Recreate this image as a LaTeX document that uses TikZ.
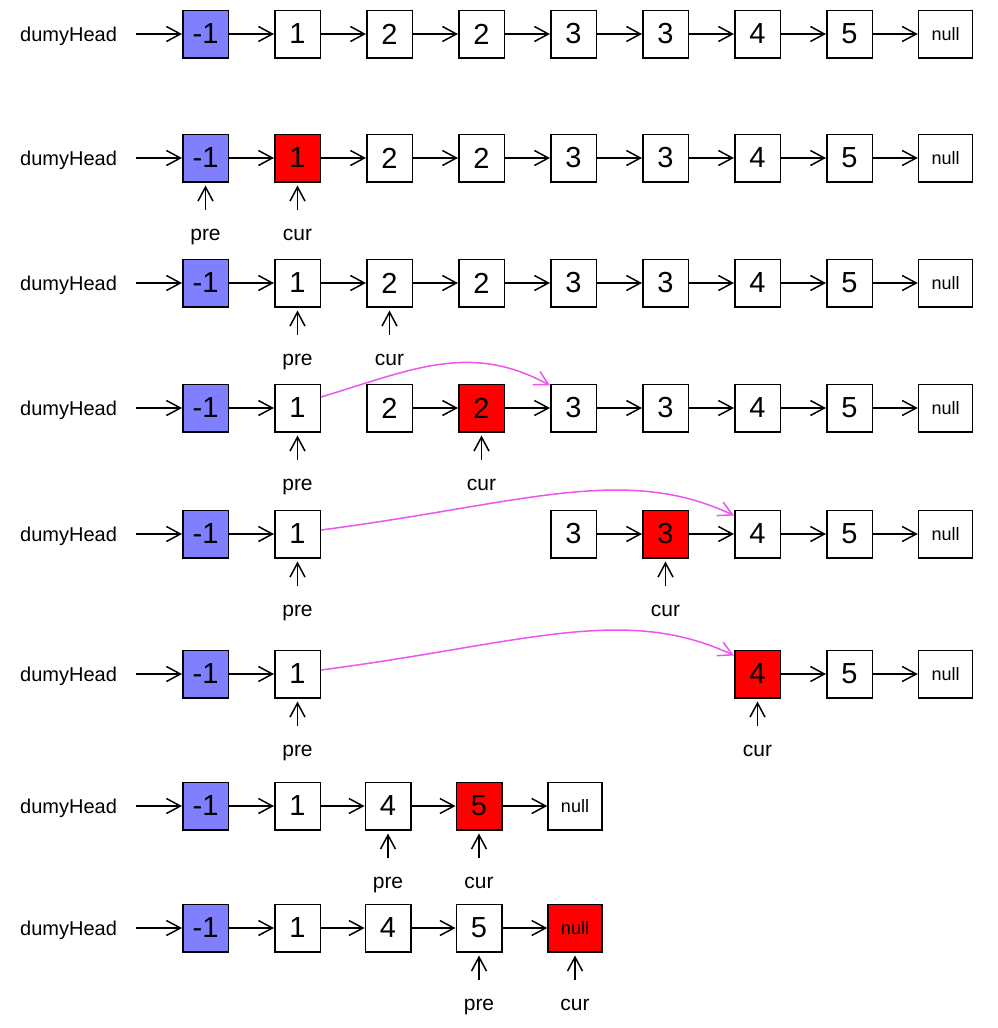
\documentclass[tikz,border=0pt]{standalone}
\usepackage{fontspec}
\setmainfont{Liberation Sans}
\usetikzlibrary{arrows.meta}

\definecolor{headblue}{HTML}{8080FF}
\definecolor{curred}{HTML}{FF0000}
\definecolor{jump}{HTML}{EE55EE}

\tikzset{
  box/.style={draw, line width=1.5pt, minimum width=45.5pt, minimum height=47.5pt,
    inner sep=0pt, font=\fontsize{29}{29}\selectfont},
  nullbox/.style={box, minimum width=54pt, font=\fontsize{18}{18}\selectfont},
  headbox/.style={box, fill=headblue},
  hot/.style={fill=curred},
  link/.style={line width=1.5pt, -{Straight Barb[length=14pt,width=15pt]}},
  jumplink/.style={link, draw=jump},
  lbl/.style={inner sep=0pt, font=\fontsize{21}{21}\selectfont},
  headlbl/.style={inner sep=0pt, anchor=west, yshift=-2pt, font=\fontsize{20}{20}\selectfont},
}

% pointer label under a box: #1 box, #2 label name, #3 text
\newcommand\ptrto[3]{%
  \node[lbl, anchor=base] (#2) at ([yshift=-58pt]#1.south) {#3};
  \draw[link] ([yshift=31pt]#2.base) -- ([yshift=-3pt]#1.south);}

\begin{document}
\begin{tikzpicture}[x=1pt, y=1pt]
\useasboundingbox (0,0) rectangle (998,-1028);

% ---------- row 1: initial list ----------
\node[headlbl] (h1) at (20,-34) {dumyHead};
\node[headbox] (a0) at (205.5,-34) {-1};
\node[box] (a1) at (297.5,-34) {1};
\node[box] (a2) at (389.5,-34) {2};
\node[box] (a3) at (481.5,-34) {2};
\node[box] (a4) at (573.5,-34) {3};
\node[box] (a5) at (665.5,-34) {3};
\node[box] (a6) at (757.5,-34) {4};
\node[box] (a7) at (849.5,-34) {5};
\node[nullbox] (a8) at (945.5,-34) {null};
\draw[link] ([xshift=19pt,yshift=2pt]h1.east) -- (a0.west);
\foreach \i/\j in {0/1,1/2,2/3,3/4,4/5,5/6,6/7,7/8}
  \draw[link] (a\i.east) -- (a\j.west);

% ---------- row 2: pre at dummy, cur at first ----------
\node[headlbl] (h2) at (20,-158) {dumyHead};
\node[headbox] (b0) at (205.5,-158) {-1};
\node[box, hot] (b1) at (297.5,-158) {1};
\node[box] (b2) at (389.5,-158) {2};
\node[box] (b3) at (481.5,-158) {2};
\node[box] (b4) at (573.5,-158) {3};
\node[box] (b5) at (665.5,-158) {3};
\node[box] (b6) at (757.5,-158) {4};
\node[box] (b7) at (849.5,-158) {5};
\node[nullbox] (b8) at (945.5,-158) {null};
\draw[link] ([xshift=19pt,yshift=2pt]h2.east) -- (b0.west);
\foreach \i/\j in {0/1,1/2,2/3,3/4,4/5,5/6,6/7,7/8}
  \draw[link] (b\i.east) -- (b\j.west);
\ptrto{b0}{bp}{pre}
\ptrto{b1}{bc}{cur}

% ---------- row 3 ----------
\node[headlbl] (h3) at (20,-283) {dumyHead};
\node[headbox] (c0) at (205.5,-283) {-1};
\node[box] (c1) at (297.5,-283) {1};
\node[box] (c2) at (389.5,-283) {2};
\node[box] (c3) at (481.5,-283) {2};
\node[box] (c4) at (573.5,-283) {3};
\node[box] (c5) at (665.5,-283) {3};
\node[box] (c6) at (757.5,-283) {4};
\node[box] (c7) at (849.5,-283) {5};
\node[nullbox] (c8) at (945.5,-283) {null};
\draw[link] ([xshift=19pt,yshift=2pt]h3.east) -- (c0.west);
\foreach \i/\j in {0/1,1/2,2/3,3/4,4/5,5/6,6/7,7/8}
  \draw[link] (c\i.east) -- (c\j.west);
\ptrto{c1}{cp}{pre}
\ptrto{c2}{cc}{cur}

% ---------- row 4: skip the run of 2s ----------
\node[headlbl] (h4) at (20,-408) {dumyHead};
\node[headbox] (d0) at (205.5,-408) {-1};
\node[box] (d1) at (297.5,-408) {1};
\node[box] (d2) at (389.5,-408) {2};
\node[box, hot] (d3) at (481.5,-408) {2};
\node[box] (d4) at (573.5,-408) {3};
\node[box] (d5) at (665.5,-408) {3};
\node[box] (d6) at (757.5,-408) {4};
\node[box] (d7) at (849.5,-408) {5};
\node[nullbox] (d8) at (945.5,-408) {null};
\draw[link] ([xshift=19pt,yshift=2pt]h4.east) -- (d0.west);
\foreach \i/\j in {0/1,2/3,3/4,4/5,5/6,6/7,7/8}
  \draw[link] (d\i.east) -- (d\j.west);
\draw[jumplink] ([yshift=11pt]d1.east) .. controls +(90,27) and +(-80,44) .. ([yshift=-2pt]d4.north west);
\ptrto{d1}{dp}{pre}
\ptrto{d3}{dc}{cur}

% ---------- row 5: skip the run of 3s ----------
\node[headlbl] (h5) at (20,-534) {dumyHead};
\node[headbox] (e0) at (205.5,-534) {-1};
\node[box] (e1) at (297.5,-534) {1};
\node[box] (e4) at (573.5,-534) {3};
\node[box, hot] (e5) at (665.5,-534) {3};
\node[box] (e6) at (757.5,-534) {4};
\node[box] (e7) at (849.5,-534) {5};
\node[nullbox] (e8) at (945.5,-534) {null};
\draw[link] ([xshift=19pt,yshift=2pt]h5.east) -- (e0.west);
\foreach \i/\j in {0/1,4/5,5/6,6/7,7/8}
  \draw[link] (e\i.east) -- (e\j.west);
\draw[jumplink] ([yshift=4pt]e1.east) .. controls +(200,26) and +(-110,52) .. ([yshift=-6pt]e6.north west);
\ptrto{e1}{ep}{pre}
\ptrto{e5}{ec}{cur}

% ---------- row 6 ----------
\node[headlbl] (h6) at (20,-674) {dumyHead};
\node[headbox] (f0) at (205.5,-674) {-1};
\node[box] (f1) at (297.5,-674) {1};
\node[box, hot] (f6) at (757.5,-674) {4};
\node[box] (f7) at (849.5,-674) {5};
\node[nullbox] (f8) at (945.5,-674) {null};
\draw[link] ([xshift=19pt,yshift=2pt]h6.east) -- (f0.west);
\foreach \i/\j in {0/1,6/7,7/8}
  \draw[link] (f\i.east) -- (f\j.west);
\draw[jumplink] ([yshift=4pt]f1.east) .. controls +(200,26) and +(-110,52) .. ([yshift=-6pt]f6.north west);
\ptrto{f1}{fp}{pre}
\ptrto{f6}{fc}{cur}

% ---------- row 7: compacted list ----------
\node[headlbl] (h7) at (20,-806) {dumyHead};
\node[headbox] (g0) at (205.5,-806) {-1};
\node[box] (g1) at (297.5,-806) {1};
\node[box] (g2) at (388,-806) {4};
\node[box, hot] (g3) at (479,-806) {5};
\node[nullbox] (g4) at (575,-806) {null};
\draw[link] ([xshift=19pt,yshift=2pt]h7.east) -- (g0.west);
\foreach \i/\j in {0/1,1/2,2/3,3/4}
  \draw[link] (g\i.east) -- (g\j.west);
\ptrto{g2}{gp}{pre}
\ptrto{g3}{gc}{cur}

% ---------- row 8: cur reaches null ----------
\node[headlbl] (h8) at (20,-928) {dumyHead};
\node[headbox] (k0) at (205.5,-928) {-1};
\node[box] (k1) at (297.5,-928) {1};
\node[box] (k2) at (388,-928) {4};
\node[box] (k3) at (479,-928) {5};
\node[nullbox, hot] (k4) at (575,-928) {null};
\draw[link] ([xshift=19pt,yshift=2pt]h8.east) -- (k0.west);
\foreach \i/\j in {0/1,1/2,2/3,3/4}
  \draw[link] (k\i.east) -- (k\j.west);
\ptrto{k3}{kp}{pre}
\ptrto{k4}{kc}{cur}

\end{tikzpicture}
\end{document}
